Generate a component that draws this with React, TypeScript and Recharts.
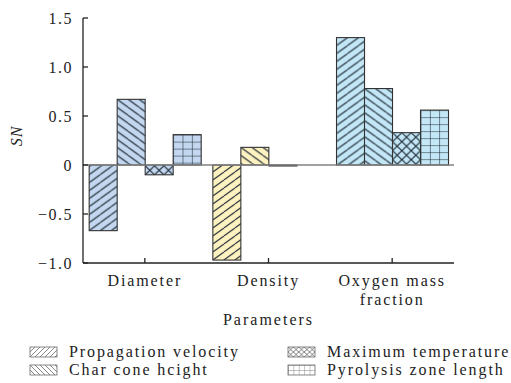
import React from 'react';
import { BarChart, Bar, XAxis, YAxis, ReferenceLine } from 'recharts';

const categories = ['Diameter', 'Density', 'Oxygen mass fraction'];
const categoryLines = [['Diameter'], ['Density'], ['Oxygen mass', 'fraction']];
const propagationVelocity = [-0.67, -0.97, 1.3];
const charConeHeight = [0.67, 0.18, 0.78];
const maximumTemperature = [-0.1, -0.01, 0.33];
const pyrolysisZoneLength = [0.31, 0, 0.56];
const yTicks = [-1.0, -0.5, 0, 0.5, 1.0, 1.5];
const seriesNames = ['Propagation velocity', 'Char cone hcight', 'Maximum temperature', 'Pyrolysis zone length'];
const seriesKeys = ['prop', 'char', 'maxt', 'pyro'];
const seriesPatterns = ['fwd', 'back', 'cross', 'grid'];
const categoryColors = ['#c3d7f0', '#fdf2c0', '#c3e7f6'];

const data = categories.map((name, i) => ({
  name,
  idx: i,
  prop: propagationVelocity[i],
  char: charConeHeight[i],
  maxt: maximumTemperature[i],
  pyro: pyrolysisZoneLength[i],
}));

const FONT = "'Liberation Serif', 'Times New Roman', serif";
const AXIS = '#222';
const HATCH = '#1a2530';

function patternContent(kind: string, tw: number, th: number, stroke: string, sw: number) {
  if (kind === 'fwd') {
    return <path d={`M0,${th} L${tw},0 M${-tw},${th} L0,0 M${tw},${th} L${2 * tw},0`} stroke={stroke} strokeWidth={sw} fill="none" />;
  }
  if (kind === 'back') {
    return <path d={`M0,0 L${tw},${th} M${-tw},0 L0,${th} M${tw},0 L${2 * tw},${th}`} stroke={stroke} strokeWidth={sw} fill="none" />;
  }
  if (kind === 'cross') {
    return <path d={`M0,0 L${tw},${th} M0,${th} L${tw},0`} stroke={stroke} strokeWidth={sw} fill="none" />;
  }
  return <path d={`M0,0 L${tw},0 M0,0 L0,${th}`} stroke={stroke} strokeWidth={sw} fill="none" />;
}

function tileSize(kind: string, width: number): [number, number] {
  if (kind === 'fwd' || kind === 'back') return [11, 8];
  if (kind === 'cross') return [width / 3, 9];
  return [width / 3, 7];
}

function makeShape(kind: string) {
  return (props: any) => {
    const { x, y, width, height, payload } = props;
    if (width == null || height == null || !isFinite(height)) return null;
    const y0 = height < 0 ? y + height : y;
    const h = Math.abs(height);
    if (h < 0.3) return null;
    const ci = payload && payload.idx != null ? payload.idx : props.index;
    const fill = categoryColors[ci] || categoryColors[0];
    const id = `pat-${kind}-${ci}`;
    const [tw, th] = tileSize(kind, width);
    const py = height < 0 ? y : y0;
    return (
      <g>
        <defs>
          <pattern id={id} patternUnits="userSpaceOnUse" x={x} y={py} width={tw} height={th}>
            {patternContent(kind, tw, th, HATCH, 1.1)}
          </pattern>
        </defs>
        <rect x={x} y={y0} width={width} height={h} fill={fill} />
        <rect x={x} y={y0} width={width} height={h} fill={`url(#${id})`} />
        <rect x={x} y={y0} width={width} height={h} fill="none" stroke="#333" strokeWidth={1.1} />
      </g>
    );
  };
}

const fmt = (v: number) => (v === 0 ? '0' : (v < 0 ? '\u2212' : '') + Math.abs(v).toFixed(1));

const YTick = (props: any) => {
  const { x, y, payload } = props;
  return (
    <g>
      <line x1={x} x2={x + 5} y1={y} y2={y} stroke={AXIS} strokeWidth={1.3} />
      <text x={x - 10} y={y} dy="0.35em" textAnchor="end" fontFamily={FONT} fontSize={16} letterSpacing={1.5} fill="#222">
        {fmt(payload.value)}
      </text>
    </g>
  );
};

const XTick = (props: any) => {
  const { x, y, payload } = props;
  const i = categories.indexOf(payload.value);
  const lines = categoryLines[i] || [String(payload.value)];
  return (
    <g>
      <line x1={x} x2={x} y1={y} y2={y - 5} stroke={AXIS} strokeWidth={1.3} />
      {lines.map((ln, k) => (
        <text key={k} x={x} y={y + 23 + k * 19} textAnchor="middle" fontFamily={FONT} fontSize={16} letterSpacing={1.9} fill="#222">
          {ln}
        </text>
      ))}
    </g>
  );
};

const XLabel = (props: any) => {
  const vb = props.viewBox || { x: 83, width: 371 };
  return (
    <text x={vb.x + vb.width / 2} y={325} textAnchor="middle" fontFamily={FONT} fontSize={16} letterSpacing={2} fill="#222">
      Parameters
    </text>
  );
};

const YLabel = () => (
  <text x={0} y={0} transform="translate(22,136) rotate(-90)" textAnchor="middle" fontFamily={FONT} fontSize={16} fontStyle="italic" letterSpacing={1} fill="#222">
    SN
  </text>
);

function Swatch({ kind }: { kind: string }) {
  const w = 27;
  const h = 10;
  const [tw, th] = kind === 'fwd' || kind === 'back' ? [5, 5] : [w / 5, 5];
  const id = `leg-${kind}`;
  return (
    <svg width={w + 2} height={h + 2} style={{ display: 'block' }}>
      <defs>
        <pattern id={id} patternUnits="userSpaceOnUse" x={1} y={1} width={tw} height={th}>
          {patternContent(kind, tw, th, '#6a6a6a', 0.8)}
        </pattern>
      </defs>
      <rect x={1} y={1} width={w} height={h} fill="#fff" />
      <rect x={1} y={1} width={w} height={h} fill={`url(#${id})`} />
      <rect x={1} y={1} width={w} height={h} fill="none" stroke="#6a6a6a" strokeWidth={0.8} />
    </svg>
  );
}

function LegendItem({ i, left, top }: { i: number; left: number; top: number }) {
  return (
    <div style={{ position: 'absolute', left, top, display: 'flex', alignItems: 'center', height: 18 }}>
      <Swatch kind={seriesPatterns[i]} />
      <span style={{ marginLeft: 11, fontFamily: FONT, fontSize: 16, letterSpacing: 1.9, color: '#222', whiteSpace: 'nowrap', lineHeight: '18px' }}>
        {seriesNames[i]}
      </span>
    </div>
  );
}

export default function App() {
  return (
    <div style={{ position: 'absolute', left: 0, top: 0, width: 511, height: 383, background: '#fff' }}>
      <BarChart
        width={511}
        height={383}
        data={data}
        margin={{ top: 18, right: 57, left: 0, bottom: 60 }}
        barCategoryGap="5%"
        barGap={0}
      >
        <XAxis
          dataKey="name"
          height={60}
          axisLine={{ stroke: AXIS, strokeWidth: 1.3 }}
          tickLine={false}
          tickSize={0}
          tickMargin={0}
          tick={<XTick />}
          interval={0}
          label={<XLabel />}
        />
        <XAxis
          xAxisId="top"
          dataKey="name"
          orientation="top"
          height={0}
          tick={false}
          tickLine={false}
          axisLine={{ stroke: AXIS, strokeWidth: 1.3 }}
        />
        <YAxis
          domain={[-1, 1.5]}
          ticks={yTicks}
          width={83}
          interval={0}
          allowDataOverflow
          axisLine={{ stroke: AXIS, strokeWidth: 1.3 }}
          tickLine={false}
          tickSize={0}
          tickMargin={0}
          tick={<YTick />}
          label={<YLabel />}
        />
        <YAxis
          yAxisId="right"
          orientation="right"
          domain={[-1, 1.5]}
          width={0}
          tick={false}
          tickLine={false}
          axisLine={{ stroke: AXIS, strokeWidth: 1.3 }}
        />
        <ReferenceLine y={0} stroke="#808080" strokeWidth={1.3} />
        {seriesKeys.map((k, i) => (
          <Bar key={k} dataKey={k} name={seriesNames[i]} isAnimationActive={false} shape={makeShape(seriesPatterns[i])} />
        ))}
      </BarChart>
      <LegendItem i={0} left={29} top={343} />
      <LegendItem i={1} left={29} top={361} />
      <LegendItem i={2} left={287} top={343} />
      <LegendItem i={3} left={287} top={361} />
    </div>
  );
}
